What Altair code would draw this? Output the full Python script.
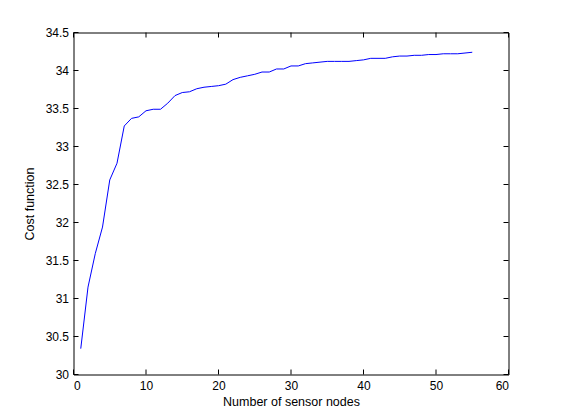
import altair as alt
import pandas as pd

nodes = list(range(1, 56))
cost = [30.34, 31.15, 31.59, 31.94, 32.56, 32.78, 33.27, 33.37, 33.39, 33.47,
        33.49, 33.49, 33.57, 33.67, 33.71, 33.72, 33.76, 33.78, 33.79, 33.80,
        33.82, 33.88, 33.91, 33.93, 33.95, 33.98, 33.98, 34.02, 34.02, 34.06,
        34.06, 34.09, 34.10, 34.11, 34.12, 34.12, 34.12, 34.12, 34.13, 34.14,
        34.16, 34.16, 34.16, 34.18, 34.19, 34.19, 34.20, 34.20, 34.21, 34.21,
        34.22, 34.22, 34.22, 34.23, 34.24]
x_ticks = [0, 10, 20, 30, 40, 50, 60]
y_ticks = [30, 30.5, 31, 31.5, 32, 32.5, 33, 33.5, 34, 34.5]
x_title = "Number of sensor nodes"
y_title = "Cost function"

W, H, TL = 435, 342, 5
FONT = "Liberation Sans"

df = pd.DataFrame({"n": nodes, "c": cost})
xt = pd.DataFrame({"n": x_ticks})
yt = pd.DataFrame({"c": y_ticks})

xs = alt.Scale(domain=[0, 60], nice=False, zero=False)
ys = alt.Scale(domain=[30, 34.5], nice=False, zero=False)

common = dict(grid=False, domain=False, ticks=False, labelColor="black",
              titleColor="black", labelFont=FONT, titleFont=FONT,
              labelFontSize=12, titleFontSize=12.5, titleFontWeight="normal")
x_axis = alt.Axis(values=x_ticks, labelPadding=6, titlePadding=4, **common)
y_axis = alt.Axis(values=y_ticks, format="~g", labelPadding=5, titlePadding=9, **common)

def X():
    return alt.X("n:Q", scale=xs, title=x_title, axis=x_axis)

def Y():
    return alt.Y("c:Q", scale=ys, title=y_title, axis=y_axis)

line = alt.Chart(df).mark_line(color="#0000FF", strokeWidth=1).encode(x=X(), y=Y())

rule_kw = dict(color="black", strokeWidth=1)
xb = alt.Chart(xt).mark_rule(**rule_kw).encode(x=X(), y=alt.value(H), y2=alt.value(H - TL))
xtp = alt.Chart(xt).mark_rule(**rule_kw).encode(x=X(), y=alt.value(0), y2=alt.value(TL))
yl = alt.Chart(yt).mark_rule(**rule_kw).encode(y=Y(), x=alt.value(0), x2=alt.value(TL))
yr = alt.Chart(yt).mark_rule(**rule_kw).encode(y=Y(), x=alt.value(W), x2=alt.value(W - TL))

chart = alt.layer(line, xb, xtp, yl, yr).properties(
    width=W, height=H,
    autosize=alt.AutoSizeParams(type="none"),
    padding={"left": 65.5, "top": 24.5, "right": 30, "bottom": 36},
    background="white",
).configure_view(stroke="black", strokeWidth=1)

chart.save("out.html", embed_options={"renderer": "svg", "actions": False})
